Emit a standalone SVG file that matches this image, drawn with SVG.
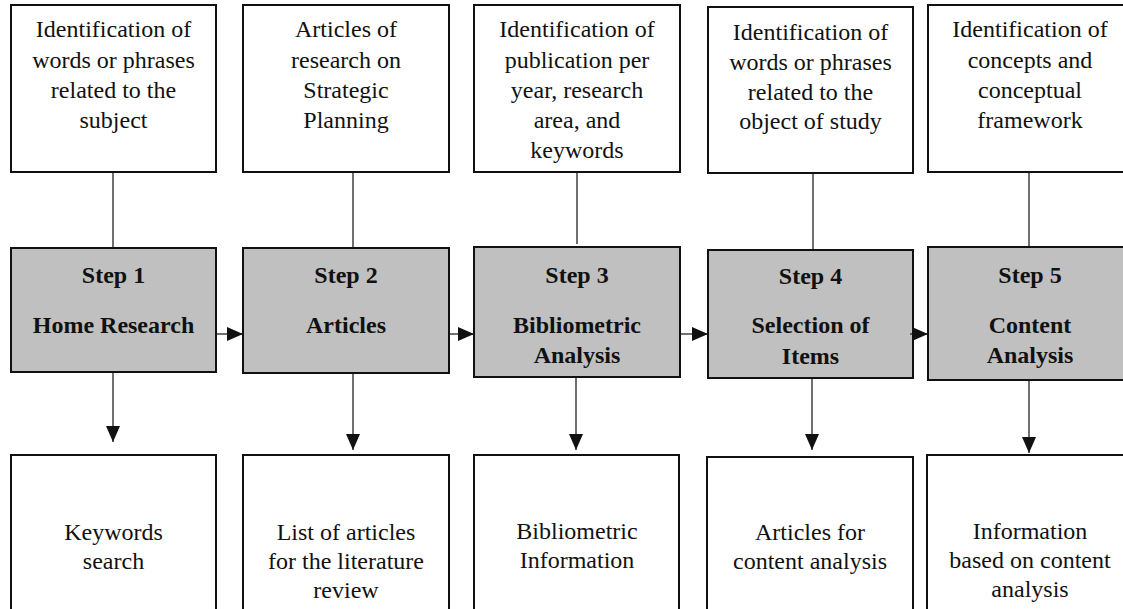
<svg xmlns="http://www.w3.org/2000/svg" width="1123" height="609" viewBox="0 0 1123 609" font-family="Liberation Serif, Times New Roman, serif">
  <style>
    .box { fill: #ffffff; stroke: #111111; stroke-width: 2; }
    .step { fill: #c0c0c0; stroke: #111111; stroke-width: 2; }
    text { font-family: "Liberation Serif", "Times New Roman", Times, serif; font-size: 24px; fill: #111111; text-anchor: middle; }
    .bold { font-weight: bold; }
    .link { stroke: #111111; stroke-width: 1.2; fill: none; }
    .arrow { stroke: #111111; stroke-width: 1.2; fill: none; marker-end: url(#head); }
  </style>
  <defs>
    <marker id="head" markerUnits="userSpaceOnUse" markerWidth="16" markerHeight="14" refX="16" refY="7" orient="auto">
      <path d="M0,0 L16,7 L0,14 z" fill="#111111"/>
    </marker>
  </defs>
  <rect width="1123" height="609" fill="#ffffff"/>

  <!-- upper row: inputs of each step -->
  <g id="input-1">
    <rect class="box" x="11" y="5" width="205" height="167"/>
    <text x="113.5" y="37">Identification of</text>
    <text x="113.5" y="67.5">words or phrases</text>
    <text x="113.5" y="98">related to the</text>
    <text x="113.5" y="128">subject</text>
  </g>
  <g id="input-2">
    <rect class="box" x="243" y="5" width="206" height="167"/>
    <text x="346" y="37">Articles of</text>
    <text x="346" y="67.5">research on</text>
    <text x="346" y="98">Strategic</text>
    <text x="346" y="128">Planning</text>
  </g>
  <g id="input-3">
    <rect class="box" x="474" y="5" width="206" height="167"/>
    <text x="577" y="37">Identification of</text>
    <text x="577" y="67.5">publication per</text>
    <text x="577" y="98">year, research</text>
    <text x="577" y="128">area, and</text>
    <text x="577" y="158">keywords</text>
  </g>
  <g id="input-4">
    <rect class="box" x="708" y="7" width="205" height="166"/>
    <text x="810.5" y="40">Identification of</text>
    <text x="810.5" y="70">words or phrases</text>
    <text x="810.5" y="100">related to the</text>
    <text x="810.5" y="129">object of study</text>
  </g>
  <g id="input-5">
    <rect class="box" x="928" y="5" width="206" height="167"/>
    <text x="1030" y="37">Identification of</text>
    <text x="1030" y="67.5">concepts and</text>
    <text x="1030" y="98">conceptual</text>
    <text x="1030" y="128">framework</text>
  </g>

  <!-- middle row: the five steps -->
  <g id="step-1">
    <rect class="step" x="11" y="248" width="205" height="124"/>
    <text class="bold" x="113.5" y="283">Step 1</text>
    <text class="bold" x="113.5" y="333">Home Research</text>
  </g>
  <g id="step-2">
    <rect class="step" x="243" y="248" width="206" height="125"/>
    <text class="bold" x="346" y="283">Step 2</text>
    <text class="bold" x="346" y="333">Articles</text>
  </g>
  <g id="step-3">
    <rect class="step" x="474" y="247" width="206" height="130"/>
    <text class="bold" x="577" y="283">Step 3</text>
    <text class="bold" x="577" y="333">Bibliometric</text>
    <text class="bold" x="577" y="363">Analysis</text>
  </g>
  <g id="step-4">
    <rect class="step" x="708" y="250" width="205" height="128"/>
    <text class="bold" x="810.5" y="284">Step 4</text>
    <text class="bold" x="810.5" y="333">Selection of</text>
    <text class="bold" x="810.5" y="364">Items</text>
  </g>
  <g id="step-5">
    <rect class="step" x="928" y="247" width="206" height="133"/>
    <text class="bold" x="1030" y="283">Step 5</text>
    <text class="bold" x="1030" y="333">Content</text>
    <text class="bold" x="1030" y="363">Analysis</text>
  </g>

  <!-- lower row: outputs of each step -->
  <g id="output-1">
    <rect class="box" x="11" y="455" width="205" height="162"/>
    <text x="113.5" y="540">Keywords</text>
    <text x="113.5" y="569">search</text>
  </g>
  <g id="output-2">
    <rect class="box" x="243" y="455" width="206" height="162"/>
    <text x="346" y="540">List of articles</text>
    <text x="346" y="569">for the literature</text>
    <text x="346" y="598">review</text>
  </g>
  <g id="output-3">
    <rect class="box" x="474" y="455" width="205" height="162"/>
    <text x="577" y="539">Bibliometric</text>
    <text x="577" y="568">Information</text>
  </g>
  <g id="output-4">
    <rect class="box" x="707" y="457" width="206" height="160"/>
    <text x="810" y="540">Articles for</text>
    <text x="810" y="569">content analysis</text>
  </g>
  <g id="output-5">
    <rect class="box" x="927" y="455" width="207" height="162"/>
    <text x="1030" y="539">Information</text>
    <text x="1030" y="568">based on content</text>
    <text x="1030" y="597">analysis</text>
  </g>

  <!-- connectors -->
  <g id="connectors">
    <!-- inputs to steps -->
    <line class="link" x1="113" y1="172" x2="113" y2="248"/>
    <line class="link" x1="353" y1="172" x2="353" y2="248"/>
    <line class="link" x1="577" y1="172" x2="577" y2="244"/>
    <line class="link" x1="813" y1="173" x2="813" y2="250"/>
    <line class="link" x1="1029" y1="172" x2="1029" y2="247"/>
    <!-- step to step -->
    <line class="arrow" x1="217" y1="334" x2="243" y2="334"/>
    <line class="arrow" x1="450" y1="334" x2="474" y2="334"/>
    <line class="arrow" x1="681" y1="334" x2="708" y2="334"/>
    <line class="arrow" x1="910" y1="334" x2="928" y2="334"/>
    <!-- steps to outputs -->
    <line class="arrow" x1="113" y1="372" x2="113" y2="442"/>
    <line class="arrow" x1="353" y1="373" x2="353" y2="450"/>
    <line class="arrow" x1="576" y1="377" x2="576" y2="450"/>
    <line class="arrow" x1="812" y1="378" x2="812" y2="450"/>
    <line class="arrow" x1="1029" y1="380" x2="1029" y2="453"/>
  </g>
</svg>
